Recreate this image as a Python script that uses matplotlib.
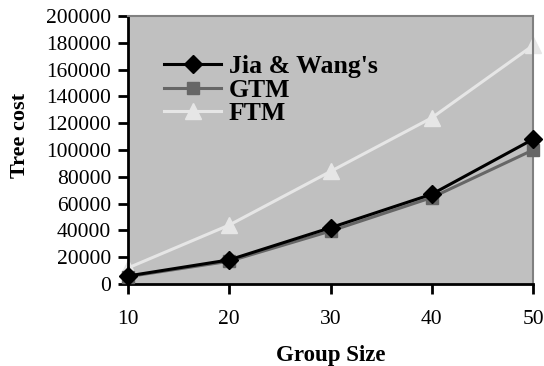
import matplotlib
matplotlib.use("Agg")
import matplotlib.pyplot as plt

plt.rcParams['font.family'] = ['Liberation Serif', 'DejaVu Serif']

group_size = [10, 20, 30, 40, 50]
jia_wang = [6000, 18000, 42000, 67000, 108000]
gtm = [5500, 17000, 39500, 64500, 100000]
ftm = [12000, 44000, 84000, 124000, 178000]
y_ticks = list(range(0, 200001, 20000))

fig = plt.figure(figsize=(5.44, 3.66), dpi=100)
ax = fig.add_axes([128 / 544, 1 - 284 / 366, (533 - 128) / 544, (284 - 16) / 366])
ax.set_facecolor('#C0C0C0')

ax.plot(group_size, jia_wang, color='black', lw=2.2, marker='D', ms=9,
        mfc='black', mec='black', label="Jia & Wang's", clip_on=False, zorder=4)
ax.plot(group_size, gtm, color='#666666', lw=2.2, marker='s', ms=8,
        mfc='#666666', mec='#666666', label='GTM', clip_on=False, zorder=3)
ax.plot(group_size, ftm, color='#E6E6E6', lw=2.2, marker='^', ms=12,
        mfc='#E6E6E6', mec='#E6E6E6', label='FTM', clip_on=False, zorder=2)

ax.set_xlim(10, 50)
ax.set_ylim(0, 200000)
ax.set_xticks(group_size)
ax.set_yticks(y_ticks)
ax.tick_params(axis='both', direction='out', length=7, width=2, labelsize=15.5,
               colors='black', pad=5)
ax.tick_params(axis='x', pad=12)

for side in ['left', 'bottom']:
    ax.spines[side].set_color('black')
    ax.spines[side].set_linewidth(2)
for side in ['top', 'right']:
    ax.spines[side].set_color('#808080')
    ax.spines[side].set_linewidth(1.5)

ax.set_xlabel('Group Size', fontsize=16.5, fontweight='bold', labelpad=11)
ax.set_ylabel('Tree cost', fontsize=16, fontweight='bold')
ax.yaxis.set_label_coords(-0.242, 0.556)

leg = ax.legend(loc='upper left', bbox_to_anchor=(0.09, 0.853), frameon=False,
                prop={'weight': 'bold', 'size': 18.5},
                handlelength=2.2, labelspacing=0.02, handletextpad=0.3,
                borderaxespad=0, borderpad=0)

fig.savefig('out.png', dpi=100)
